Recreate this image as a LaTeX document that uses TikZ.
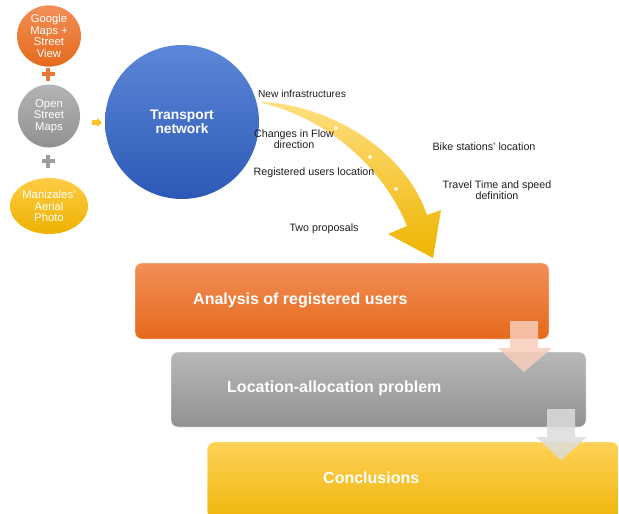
\documentclass[tikz,border=0pt]{standalone}
\usepackage{fontspec}
\setmainfont{Liberation Sans}
\usetikzlibrary{shapes.geometric}
\definecolor{orTop}{HTML}{F28F58}
\definecolor{orBot}{HTML}{E5691B}
\definecolor{grTop}{HTML}{B4B4B4}
\definecolor{grBot}{HTML}{919191}
\definecolor{yeTop}{HTML}{FFCC45}
\definecolor{yeBot}{HTML}{EDB200}
\definecolor{blTop}{HTML}{5D87D8}
\definecolor{blBot}{HTML}{2C59B6}
\definecolor{arTop}{HTML}{FFDF80}
\definecolor{arBot}{HTML}{EEB400}
\definecolor{lbl}{HTML}{1E1E1E}
\definecolor{pinkA}{HTML}{F8CDBB}
\definecolor{grayA}{HTML}{DCDCDC}
\begin{document}
\begin{tikzpicture}[x=1pt,y=-1pt,
  srcnode/.style={ellipse, inner sep=0pt, text=white, align=center,
    font=\fontsize{11.3}{11.7}\selectfont},
  lab/.style={text=lbl, align=center, inner sep=0pt,
    font=\fontsize{10.7}{11.5}\selectfont},
  boxnode/.style={rectangle, rounded corners=7pt, inner sep=0pt, draw=white, draw opacity=0.45, line width=0.8pt},
  boxtext/.style={text=white, anchor=west, inner sep=0pt,
    font=\fontsize{16}{18}\selectfont\bfseries},
  plussign/.style={line width=3.8pt},
  downarrow/.style={opacity=0.85}
]
\clip (0,0) rectangle (619,514);
\useasboundingbox (0,0) rectangle (619,514);

% source ellipses
\node[srcnode, minimum width=64pt, minimum height=54pt, top color=orTop, bottom color=orBot] (gm) at (49,36) {Google\\Maps +\\Street\\View};
\node[srcnode, minimum width=62pt, minimum height=63pt, top color=grTop, bottom color=grBot] (osm) at (49,116) {Open\\Street\\Maps};
\node[srcnode, minimum width=78pt, minimum height=56pt, top color=yeTop, bottom color=yeBot] (mz) at (49,206) {Manizales'\\Aerial\\Photo};

% plus signs
\coordinate (p1) at (48,74);
\coordinate (p2) at (48,161);
\draw[plussign, color=orBot!90!white] ([xshift=-6.5pt]p1) -- ([xshift=6.5pt]p1) ([yshift=-6.5pt]p1) -- ([yshift=6.5pt]p1);
\draw[plussign, color=grBot!90!white] ([xshift=-6.5pt]p2) -- ([xshift=6.5pt]p2) ([yshift=-6.5pt]p2) -- ([yshift=6.5pt]p2);

% small arrow
\fill[color=yeTop!60!yeBot] (92,120) -- (97,120) -- (97,118) -- (102,122.5) -- (97,127) -- (97,125) -- (92,125) -- cycle;

% transport network
\node[circle, minimum size=154pt, inner sep=0pt, top color=blTop, bottom color=blBot, text=white, align=center,
  font=\fontsize{13.8}{13.5}\selectfont\bfseries] (tn) at (182,122) {Transport\\network};

% curved arrow
\shade[top color=arTop, bottom color=arBot]
  (262,102) .. controls (330,105) and (405,150) .. (427,215)
  -- (441,210) -- (433,258) -- (388,234) -- (407,226)
  .. controls (382,165) and (325,118) .. (262,103) -- cycle;
\foreach \p in {(336,128),(370,157),(396,189)} \fill[white, opacity=0.8] \p circle (2pt);

% labels
\node[lab, font=\fontsize{10.2}{11}\selectfont] (l1) at (302,94) {New infrastructures};
\node[lab] (l2) at (294,139) {Changes in Flow\\direction};
\node[lab] (l3) at (314,173) {Registered users location};
\node[lab] (l4) at (324,229) {Two proposals};
\node[lab] (l5) at (484,147) {Bike stations’ location};
\node[lab] (l6) at (497,190) {Travel Time and speed\\definition};

% boxes
\node[boxnode, minimum width=414pt, minimum height=76pt, top color=orTop, bottom color=orBot] (b1) at (342,301) {};
\node[boxnode, minimum width=415pt, minimum height=75pt, top color=grTop!95!white, bottom color=grBot] (b2) at (378.5,389.5) {};
\node[boxnode, minimum width=411pt, minimum height=88pt, top color=yeTop!90!white, bottom color=yeBot] (b3) at (413,486) {};
\node[boxtext] (t1) at (193,300) {Analysis of registered users};
\node[boxtext] (t2) at (227,388) {Location-allocation problem};
\node[boxtext] (t3) at (323,478) {Conclusions};

% down arrows
\fill[downarrow, color=pinkA] (510,321) -- (538,321) -- (538,348) -- (552,348) -- (524,372) -- (498,348) -- (510,348) -- cycle;
\fill[downarrow, color=grayA] (547,409) -- (575,409) -- (575,437) -- (587,437) -- (561,460) -- (536,437) -- (547,437) -- cycle;
\end{tikzpicture}
\end{document}
